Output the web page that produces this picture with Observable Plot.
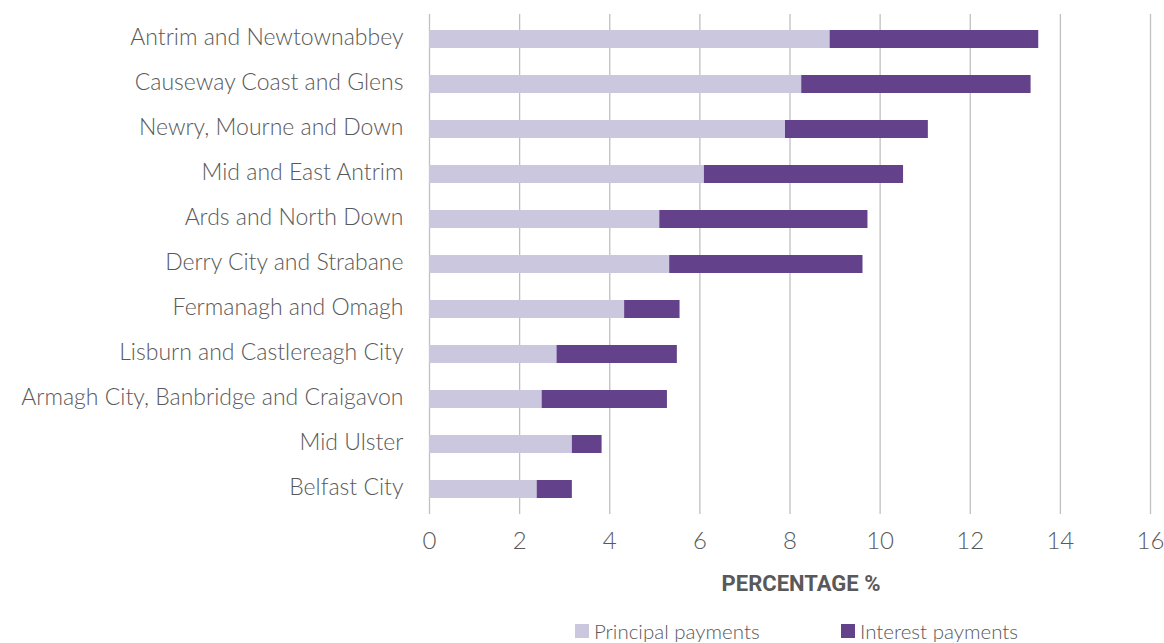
<!DOCTYPE html>
<html>
<head>
<meta charset="utf-8">
<script src="https://cdn.jsdelivr.net/npm/d3@7"></script>
<script src="https://cdn.jsdelivr.net/npm/@observablehq/plot@0.6"></script>
<style>
  html, body { margin: 0; padding: 0; background: #ffffff; }
  body { width: 1164px; height: 643px; overflow: hidden; font-family: Lato, "Open Sans", sans-serif; }
  #chart svg { display: block; }
  .legend { position: absolute; top: 618px; left: 0; width: 1164px; height: 26px; }
  .legend .item { position: absolute; top: 0; display: flex; align-items: center; font-family: Lato, sans-serif; font-weight: 300; font-size: 20.5px; color: #595959; line-height: 26px; }
  .legend .sw { width: 14px; height: 14px; margin-right: 5px; display: inline-block; }
</style>
</head>
<body>
<div id="chart"></div>
<div class="legend" id="legend"></div>
<script>
const regions = [
  "Antrim and Newtownabbey",
  "Causeway Coast and Glens",
  "Newry, Mourne and Down",
  "Mid and East Antrim",
  "Ards and North Down",
  "Derry City and Strabane",
  "Fermanagh and Omagh",
  "Lisburn and Castlereagh City",
  "Armagh City, Banbridge and Craigavon",
  "Mid Ulster",
  "Belfast City"
];
const principal = [8.89, 8.26, 7.90, 6.10, 5.11, 5.33, 4.33, 2.83, 2.50, 3.17, 2.39];
const interest  = [4.63, 5.09, 3.17, 4.42, 4.62, 4.29, 1.23, 2.67, 2.78, 0.66, 0.78];
const seriesNames = ["Principal payments", "Interest payments"];
const seriesColors = ["#cbc7df", "#63428b"];
const xTicks = [0, 2, 4, 6, 8, 10, 12, 14, 16];
const xLabel = "PERCENTAGE %";

const rows = [];
regions.forEach((r, i) => {
  rows.push({region: r, series: seriesNames[0], value: principal[i]});
  rows.push({region: r, series: seriesNames[1], value: interest[i]});
});

const chart = Plot.plot({
  width: 1164,
  height: 600,
  marginLeft: 429,
  marginRight: 14,
  marginTop: 14,
  marginBottom: 86,
  style: {fontFamily: "Lato, 'Open Sans', sans-serif", color: "#595959", background: "#ffffff"},
  x: {domain: [0, 16], ticks: xTicks, label: null},
  y: {domain: regions, paddingInner: 0.6, paddingOuter: 0.3, label: null},
  color: {domain: seriesNames, range: seriesColors},
  marks: [
    Plot.gridX(xTicks, {stroke: "#c0c0c0", strokeOpacity: 1, strokeWidth: 1.3}),
    Plot.barX(rows, Plot.stackX({x: "value", y: "region", fill: "series", order: seriesNames})),
    Plot.axisX({ticks: xTicks, tickSize: 0, tickPadding: 17, fontSize: 24, fontWeight: 300, label: null}),
    Plot.axisY({tickSize: 0, tickPadding: 26, fontSize: 23, fontWeight: 300, dy: -2, label: null}),
    Plot.text([xLabel], {frameAnchor: "bottom", text: d => d, dy: 76, dx: 11, fontSize: 22, fontWeight: "bold", fill: "#595959", fontFamily: "'Liberation Sans Narrow', 'Roboto', sans-serif"})
  ]
});
document.getElementById("chart").appendChild(chart);

const legend = document.getElementById("legend");
const legendLeft = [575, 841];
seriesNames.forEach((name, i) => {
  const item = document.createElement("div");
  item.className = "item";
  item.style.left = legendLeft[i] + "px";
  const sw = document.createElement("span");
  sw.className = "sw";
  sw.style.background = seriesColors[i];
  item.appendChild(sw);
  item.appendChild(document.createTextNode(name));
  legend.appendChild(item);
});
</script>
</body>
</html>
